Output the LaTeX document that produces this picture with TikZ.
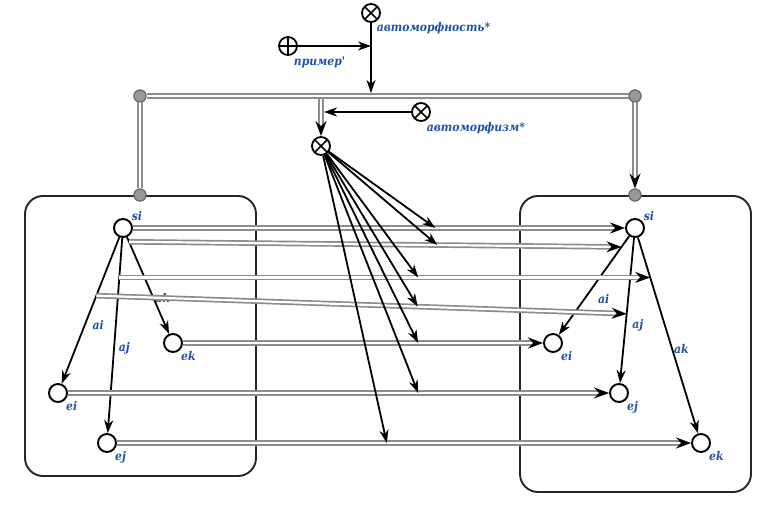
\documentclass[tikz,border=0pt]{standalone}
\usepackage{fontspec}
\newfontfamily\lblfamily{DejaVu Serif Condensed}
\usepackage{tikz}
\usetikzlibrary{arrows.meta}
\usetikzlibrary{calc}
\definecolor{lblblue}{RGB}{30,80,170}

\begin{document}
\begin{tikzpicture}[x=1pt,y=-1pt,line width=1.8pt,
	>={Stealth[length=13pt,width=9pt,inset=4pt]},
	lbl/.style={text=lblblue,font=\lblfamily\bfseries\itshape\fontsize{12}{14}\selectfont,inner sep=1pt},
	vert/.style={draw,circle,fill=white,inner sep=0pt,minimum size=18pt,line width=1.9pt},
	joint/.style={draw=black!60,circle,fill=black!40,inner sep=0pt,minimum size=12pt,line width=1pt},
	tensor/.style={draw,circle,fill=white,inner sep=0pt,minimum size=18pt,line width=1.8pt,
		path picture={\draw[line width=1.6pt] (path picture bounding box.north west) -- (path picture bounding box.south east)
			(path picture bounding box.north east) -- (path picture bounding box.south west);}},
	oplus/.style={draw,circle,fill=white,inner sep=0pt,minimum size=18pt,line width=1.8pt,
		path picture={\draw[line width=1.6pt] (path picture bounding box.north) -- (path picture bounding box.south)
			(path picture bounding box.east) -- (path picture bounding box.west);}},
	map/.style={draw=black!45,double=white,double distance=2.2pt,line width=1.7pt},
	mapto/.style={map,-{Stealth[color=black,length=15pt,width=11pt,inset=5pt]}},
	frame/.style={draw=black!85,rounded corners=18pt,line width=1.9pt}]
	\useasboundingbox (0,0) rectangle (772,518);
	\draw[frame] (25,196) rectangle (256,476);
	\draw[frame] (520,196) rectangle (751,492);
	\foreach \s/\n/\x/\y/\a in {L/si/123/228/40,L/ek/173/343/-45,L/ei/58/393/-45,L/ej/107/443/-45,
		R/si/635/228/40,R/ei/553/343/-45,R/ej/619/393/-45,R/ek/701/443/-45}{
		\node[vert,label={[lbl,label distance=-1pt]\a:\n}] (\s\n) at (\x,\y) {};
	}
	\draw[->] (Lsi) -- (Lei) node[lbl,pos=0.6,right=6pt] {ai};
	\draw[->] (Lsi) -- (Lej) node[lbl,pos=0.565,right=3pt] {aj};
	\draw[->] (Lsi) -- (Lek) node[lbl,pos=0.63,anchor=west] {ak};
	\draw[->] (Rsi) -- (Rei) node[lbl,pos=0.64,right=12pt] {ai};
	\draw[->] (Rsi) -- (Rej) node[lbl,pos=0.6,right=5pt] {aj};
	\draw[->] (Rsi) -- (Rek) node[lbl,pos=0.57,anchor=west] {ak};
	\coordinate (Lak) at ($(Lsi)!0.12!(Lek)$);
	\coordinate (Laj) at ($(Lsi)!0.23!(Lej)$);
	\coordinate (Lai) at ($(Lsi)!0.41!(Lei)$);
	\coordinate (Rai) at ($(Rsi)!0.165!(Rei)$);
	\coordinate (Rak) at ($(Rsi)!0.23!(Rek)$);
	\coordinate (Raj) at ($(Rsi)!0.52!(Rej)$);
	\foreach \a/\b/\p [count=\i] in {Lsi/Rsi/0.61,Lak/Rai/0.626,Laj/Rak/0.563,Lai/Raj/0.606,
		Lek/Rei/0.645,Lei/Rej/0.642,Lej/Rek/0.471}{
		\draw[mapto] (\a) -- (\b);
		\coordinate (f\i) at ($(\a)!\p!(\b)$);
	}
	\node[joint] (J1) at (140,96) {};
	\node[joint] (J2) at (635,96) {};
	\node[joint] (J3) at (140,195) {};
	\node[joint] (J4) at (635,195) {};
	\node[tensor] (Xa) at (371,13) {};
	\node[oplus] (P) at (288,46) {};
	\node[tensor] (Xb) at (321,146) {};
	\node[tensor] (Xc) at (421,112) {};
	\node[lbl,anchor=west] (tXa) at (375,28) {автоморфность*};
	\node[lbl,anchor=west] (tP) at (292,62) {пример'};
	\node[lbl,anchor=west] (tXc) at (425,128) {автоморфизм*};
	\coordinate (Bm) at (321,96);
	\coordinate (Ba) at (371,93);
	\draw[mapto] (Bm) -- (Xb);
	\draw[map] (J1) -- (J3);
	\draw[mapto] (J2) -- (J4);
	\draw[map] (J1) -- (J2);
	\node[joint] at (J1) {};
	\node[joint] at (J2) {};
	\node[joint] at (J3) {};
	\node[joint] at (J4) {};
	\draw[->] (Xa) -- (Ba);
	\draw[->] (P) -- (Xa |- P);
	\draw[->] (Xc) -- ([xshift=3pt]Xb |- Xc);
	\foreach \i in {1,...,7}{
		\draw[->] (Xb) -- (f\i);
	}
\end{tikzpicture}
\end{document}
